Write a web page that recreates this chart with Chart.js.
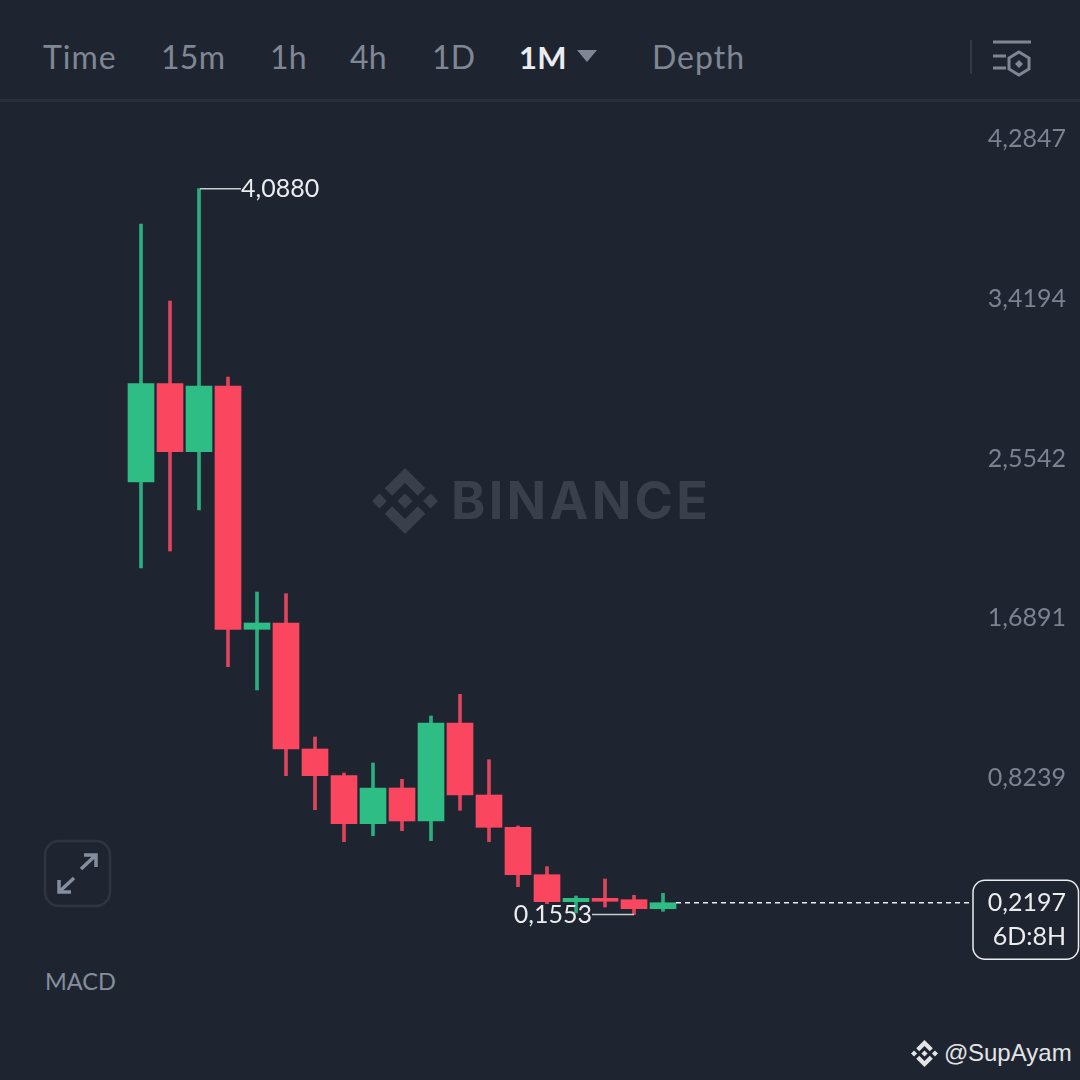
<!DOCTYPE html>
<html lang="en">
<head>
    <meta charset="UTF-8">
    <title>1M candles</title>
    <script src="https://cdn.jsdelivr.net/npm/chart.js"></script>
    <style>
        html, body { margin: 0; padding: 0; background: #1f2530; }
        #page { position: relative; width: 1080px; height: 1080px; overflow: hidden; background: #1f2530; font-family: Lato, sans-serif; }
        canvas { position: absolute; left: 0; top: 0; }
        .tab { position: absolute; top: 37px; font-size: 32px; line-height: 40px; color: #7f8794; letter-spacing: 0.3px; white-space: nowrap; }
        .tab.active { color: #eaecef; font-weight: 700; font-size: 31px; }
        .rule { position: absolute; left: 0; top: 99px; width: 1080px; height: 3px; background: #2a303a; }
        .sep { position: absolute; left: 970px; top: 40px; width: 2px; height: 34px; background: #343a45; }
        .macd { position: absolute; left: 45px; top: 965px; font-size: 23.5px; line-height: 32px; color: #848e9c; }
        .mark { position: absolute; left: 451px; top: 469px; font-family: Inter, sans-serif; font-weight: 700; font-size: 52px; line-height: 64px; color: #3a404b; letter-spacing: 3.3px; }
        .credit { position: absolute; top: 1037px; font-family: "Liberation Sans", sans-serif; font-size: 24px; line-height: 32px; color: #e2e4e6; }
        svg { position: absolute; overflow: visible; }
    </style>
</head>
<body>
<div id="page">
    <div class="tab" style="left:43px;letter-spacing:1px">Time</div>
    <div class="tab" style="left:161px">15m</div>
    <div class="tab" style="left:270px">1h</div>
    <div class="tab" style="left:350px">4h</div>
    <div class="tab" style="left:432px">1D</div>
    <div class="tab active" style="left:519px">1M</div>
    <svg style="left:577px;top:50px" width="20" height="13"><path d="M0 0H20L10 12Z" fill="#7f8794"/></svg>
    <div class="tab" style="left:652px;letter-spacing:1px">Depth</div>
    <div class="sep"></div>
    <svg style="left:993px;top:40px" width="40" height="36" fill="none" stroke="#7f8794" stroke-width="3">
        <path d="M0 2H38M0 16H13M0 28H13"/>
        <path d="M26 12L36 18V29L26 35L16 29V18Z"/>
        <path d="M26 20L30 24L26 28L22 24Z" fill="#7f8794" stroke="none"/>
    </svg>
    <div class="rule"></div>

    <svg style="left:372px;top:468px" width="66" height="66" viewBox="0 0 126.6 126.6" fill="#3a404b">
        <path d="M38.73 53.2l24.59-24.58 24.6 24.6 14.3-14.31L63.32 0 24.43 38.88zM0 63.31l14.3-14.31 14.31 14.31-14.31 14.3zM38.73 73.41l24.59 24.59 24.6-24.6 14.31 14.29-38.9 38.91-38.91-38.88zM98.03 63.32l14.3-14.31 14.31 14.3-14.31 14.32zM77.83 63.3L63.32 48.78 52.59 59.51l-1.24 1.23-2.54 2.54 14.51 14.52 14.51-14.5z"/>
    </svg>
    <div class="mark">BINANCE</div>

    <svg style="left:44px;top:840px" width="67" height="67" fill="none">
        <rect x="1" y="1" width="65" height="65" rx="14" stroke="#2f3540" stroke-width="2.5"/>
        <path d="M37 29L52 15M40 15H52V27M30 38L15 52M15 40V52H27" stroke="#848e9c" stroke-width="3.5"/>
    </svg>
    <div class="macd">MACD</div>

    <svg style="left:911px;top:1040px" width="27" height="27" viewBox="0 0 126.6 126.6" fill="#e2e4e6">
        <path d="M38.73 53.2l24.59-24.58 24.6 24.6 14.3-14.31L63.32 0 24.43 38.88zM0 63.31l14.3-14.31 14.31 14.31-14.31 14.3zM38.73 73.41l24.59 24.59 24.6-24.6 14.31 14.29-38.9 38.91-38.91-38.88zM98.03 63.32l14.3-14.31 14.31 14.3-14.31 14.32zM77.83 63.3L63.32 48.78 52.59 59.51l-1.24 1.23-2.54 2.54 14.51 14.52 14.51-14.5z"/>
    </svg>
    <div class="credit" style="left:944px">@</div>
    <div class="credit" style="left:968px">SupAyam</div>

    <canvas id="candles" width="1080" height="1080"></canvas>
</div>

<script>
    // monthly candles
    const categories = [1, 2, 3, 4, 5, 6, 7, 8, 9, 10, 11, 12, 13, 14, 15, 16, 17, 18, 19];
    const opens  = [2.4989, 3.0325, 2.6630, 3.0189, 1.7009, 1.7351, 1.0525, 0.9079, 0.6478, 0.8412, 0.6625, 1.1933, 0.8033, 0.6283, 0.3716, 0.2253, 0.2437, 0.2361, 0.1874];
    const closes = [3.0325, 2.6630, 3.0189, 1.7009, 1.7351, 1.0525, 0.9079, 0.6478, 0.8412, 0.6625, 1.1933, 0.8033, 0.6283, 0.3716, 0.2253, 0.2437, 0.2275, 0.1874, 0.2197];
    const highs  = [3.8965, 3.4794, 4.0880, 3.0677, 1.9030, 1.8938, 1.1175, 0.9225, 0.9767, 0.8884, 1.2313, 1.3488, 0.9945, 0.6354, 0.4149, 0.2562, 0.3483, 0.2600, 0.2708];
    const lows   = [2.0330, 2.1251, 2.3472, 1.4983, 1.3721, 0.9079, 0.7237, 0.5503, 0.5828, 0.6099, 0.5558, 0.7204, 0.5503, 0.3066, 0.2145, 0.1641, 0.1966, 0.1553, 0.1733];

    const tickValues = [4.2847, 3.4194, 2.5542, 1.6891, 0.8239];
    const tickLabels = ['4,2847', '3,4194', '2,5542', '1,6891', '0,8239'];

    const highMark = { category: 3, value: 4.0880, label: '4,0880' };
    const lowMark = { category: 18, value: 0.1553, label: '0,1553' };
    const lastPrice = { category: 19, value: 0.2197, label: '0,2197', countdown: '6D:8H' };

    const UP = '#2ebd85', DOWN = '#fb4660';
    const UP_WICK = '#2bae7e', DOWN_WICK = '#dd455d';
    const isUp = i => closes[i] >= opens[i];
    const NUM_FONT = '25px Lato, sans-serif';

    // price marks and the last price box, placed through the scales
    const markers = {
        id: 'markers',
        afterDatasetsDraw(chart) {
            const { ctx, scales: { x, y } } = chart;
            ctx.save();
            ctx.font = NUM_FONT;
            ctx.textBaseline = 'middle';

            // highest price, leader to the right
            let px = x.getPixelForValue(highMark.category);
            let py = y.getPixelForValue(highMark.value);
            ctx.strokeStyle = '#c9ccd0';
            ctx.lineWidth = 1.5;
            ctx.beginPath();
            ctx.moveTo(px + 1, py);
            ctx.lineTo(px + 42, py);
            ctx.stroke();
            ctx.fillStyle = '#eaecef';
            ctx.textAlign = 'left';
            ctx.fillText(highMark.label, px + 42, py);

            // lowest price, leader to the left
            px = x.getPixelForValue(lowMark.category);
            py = y.getPixelForValue(lowMark.value);
            ctx.beginPath();
            ctx.moveTo(px, py);
            ctx.lineTo(px - 42, py);
            ctx.stroke();
            ctx.textAlign = 'right';
            ctx.fillText(lowMark.label, px - 42, py);

            // last price
            px = x.getPixelForValue(lastPrice.category);
            py = y.getPixelForValue(lastPrice.value);
            ctx.strokeStyle = '#eaecef';
            ctx.setLineDash([5, 4]);
            ctx.beginPath();
            ctx.moveTo(px + 13, py);
            ctx.lineTo(973, py);
            ctx.stroke();
            ctx.setLineDash([]);
            ctx.fillStyle = '#1f2530';
            ctx.beginPath();
            ctx.roundRect(973, py - 22.5, 105.5, 79, 12);
            ctx.fill();
            ctx.stroke();
            ctx.fillStyle = '#eaecef';
            ctx.fillText(lastPrice.label, 1066, py);
            ctx.fillText(lastPrice.countdown, 1066, py + 34);
            ctx.restore();
        }
    };

    new Chart(document.getElementById('candles'), {
        type: 'bar',
        data: {
            datasets: [
                {
                    label: 'Body',
                    order: 1,
                    data: categories.map((c, i) => ({ x: c, y: [opens[i], closes[i]] })),
                    backgroundColor: categories.map((c, i) => isUp(i) ? UP : DOWN),
                    barThickness: 26,
                    grouped: false,
                    borderWidth: 0
                },
                {
                    label: 'Wick',
                    order: 2,
                    data: categories.map((c, i) => ({ x: c, y: [lows[i], highs[i]] })),
                    backgroundColor: categories.map((c, i) => isUp(i) ? UP_WICK : DOWN_WICK),
                    barThickness: 3,
                    grouped: false,
                    borderWidth: 0
                }
            ]
        },
        options: {
            responsive: false,
            animation: false,
            devicePixelRatio: 1,
            layout: { padding: { top: 100, bottom: 80, left: 0, right: 0 } },
            plugins: { legend: { display: false }, tooltip: { enabled: false } },
            scales: {
                x: {
                    type: 'linear',
                    display: false,
                    offset: false,
                    min: -3.862,
                    max: 33.379
                },
                y: {
                    position: 'right',
                    min: -0.3072,
                    max: 4.5682,
                    grid: { display: false },
                    border: { display: false },
                    afterBuildTicks: scale => { scale.ticks = tickValues.map(v => ({ value: v })); },
                    afterFit: scale => { scale.width = 0; },
                    ticks: {
                        mirror: true,
                        padding: -14,
                        color: '#7b8290',
                        // labels sit above their price level, so an empty second line lifts them
                        font: { family: 'Lato, sans-serif', size: 25, lineHeight: 1.06 },
                        callback: (v, i) => [tickLabels[i], '']
                    }
                }
            }
        },
        plugins: [markers]
    });
</script>
</body>
</html>
